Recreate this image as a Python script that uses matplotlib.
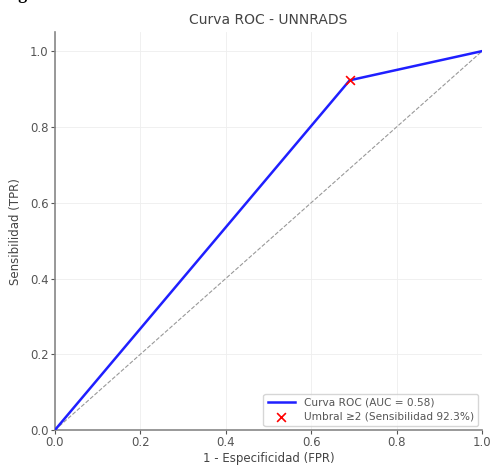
import matplotlib.pyplot as plt

# puntos de la curva ROC
fpr = [0.0, 0.69, 1.0]
tpr = [0.0, 0.923, 1.0]
auc_label = 0.58

# umbral marcado
umbral_fpr = 0.69
umbral_tpr = 0.923

ticks = [0.0, 0.2, 0.4, 0.6, 0.8, 1.0]

fig = plt.figure(figsize=(4.94, 4.66), dpi=100)
ax = fig.add_axes([0.111, 0.077, 0.865, 0.854])

ax.plot(fpr, tpr, color='#1f1fff', lw=1.8, label=f'Curva ROC (AUC = {auc_label:.2f})', zorder=3)
ax.plot([0, 1], [0, 1], color='#999999', lw=0.8, ls='--', zorder=2)
ax.scatter([umbral_fpr], [umbral_tpr], marker='x', color='red', s=40, lw=1.2,
           label='Umbral ≥2 (Sensibilidad 92.3%)', zorder=4)

ax.set_xlim(0, 1.0)
ax.set_ylim(0, 1.05)
ax.set_xticks(ticks)
ax.set_yticks(ticks)
ax.grid(True, color='#eeeeee', lw=0.6)

for s in ['top', 'right']:
    ax.spines[s].set_visible(False)
for s in ['left', 'bottom']:
    ax.spines[s].set_color('#888888')
    ax.spines[s].set_linewidth(1.2)
ax.tick_params(colors='#555555', labelsize=8.5, length=3, pad=1.5)

ax.set_title('Curva ROC - UNNRADS', fontsize=10, color='#444444', pad=6)
ax.set_xlabel('1 - Especificidad (FPR)', fontsize=8.5, color='#444444', labelpad=2)
ax.set_ylabel('Sensibilidad (TPR)', fontsize=8.5, color='#444444', labelpad=6)

leg = ax.legend(loc='lower right', fontsize=7.6, frameon=True, handlelength=2.6,
                borderaxespad=0.4, labelspacing=0.35)
for t in leg.get_texts():
    t.set_color('#555555')

# texto cortado arriba del recorte
fig.text(0.005, 1.003, 'Figura 9.', fontsize=13, fontweight='bold', family='Liberation Serif',
         va='baseline', ha='left')

fig.savefig('out.png', dpi=100)
